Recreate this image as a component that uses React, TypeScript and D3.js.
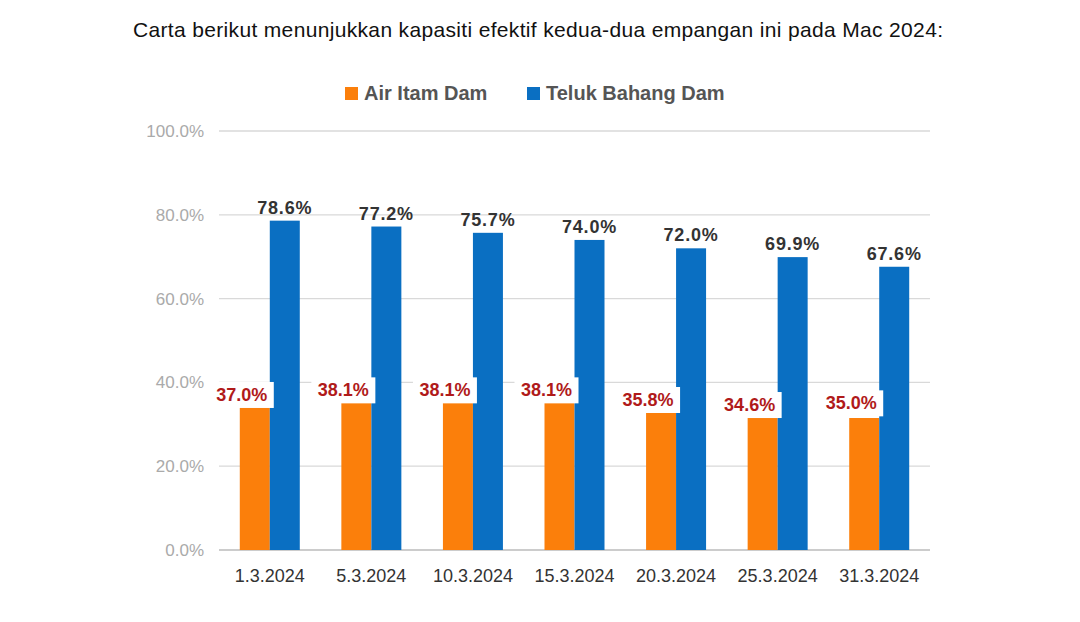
import React from "react";
import * as d3 from "d3";

const categories = ["1.3.2024","5.3.2024","10.3.2024","15.3.2024","20.3.2024","25.3.2024","31.3.2024"];
const airItamBar = [34.4, 35.1, 35.1, 35.1, 33.2, 31.5, 31.5];
const airItamLabel = [37.0, 38.1, 38.1, 38.1, 35.8, 34.6, 35.0];
const telukBahang = [78.6, 77.2, 75.7, 74.0, 72.0, 69.9, 67.6];
const yTicks = [0, 20, 40, 60, 80, 100];

const ORANGE = "#fb7f0b";
const BLUE = "#0a6fc2";
const F = "Liberation Sans, Arial, sans-serif";

export default function App() {
  const x = d3.scaleBand<string>().domain(categories).range([219, 930]);
  const y = d3.scaleLinear().domain([0, 100]).range([550, 131]);
  const bw = 30;
  return (
    <svg width={1080} height={622} style={{ position: "absolute", left: 0, top: 0, background: "#fff" }} fontFamily={F}>
      <rect width={1080} height={622} fill="#fff" />
      <text x={538} y={37} textAnchor="middle" fontSize={21} fill="#111" textLength={810}>
        Carta berikut menunjukkan kapasiti efektif kedua-dua empangan ini pada Mac 2024:
      </text>
      <rect x={345} y={87} width={13} height={13} fill={ORANGE} />
      <text x={364} y={100} fontSize={20} fontWeight="bold" fill="#555">Air Itam Dam</text>
      <rect x={527} y={87} width={13} height={13} fill={BLUE} />
      <text x={546} y={100} fontSize={20} fontWeight="bold" fill="#555">Teluk Bahang Dam</text>
      {yTicks.map(t => (
        <g key={t}>
          <line x1={219} x2={930} y1={y(t)} y2={y(t)} stroke={t === 0 ? "#bbb" : "#d9d9d9"} strokeWidth={1.3} />
          <text x={204} y={y(t) + 6} textAnchor="end" fontSize={17} fill="#aaa">{t.toFixed(1)}%</text>
        </g>
      ))}
      {categories.map((c, i) => {
        const cx = x(c)! + x.bandwidth() / 2;
        const ox = cx - bw;
        return (
          <g key={c}>
            <rect x={ox} y={y(airItamBar[i])} width={bw} height={550 - y(airItamBar[i])} fill={ORANGE} />
            <rect x={cx} y={y(telukBahang[i])} width={bw} height={550 - y(telukBahang[i])} fill={BLUE} />
            <text x={cx + bw / 2} y={y(telukBahang[i]) - 7} textAnchor="middle" fontSize={18} fontWeight="bold" fill="#333" letterSpacing={0.8}>
              {telukBahang[i].toFixed(1)}%
            </text>
            <rect x={ox + 2 - 32} y={y(airItamLabel[i]) - 13} width={64} height={26} fill="#fff" />
            <text x={ox + 2} y={y(airItamLabel[i]) + 6} textAnchor="middle" fontSize={18} fontWeight="bold" fill="#b01a1a">
              {airItamLabel[i].toFixed(1)}%
            </text>
            <text x={cx} y={582} textAnchor="middle" fontSize={18} fill="#333">{c}</text>
          </g>
        );
      })}
    </svg>
  );
}
